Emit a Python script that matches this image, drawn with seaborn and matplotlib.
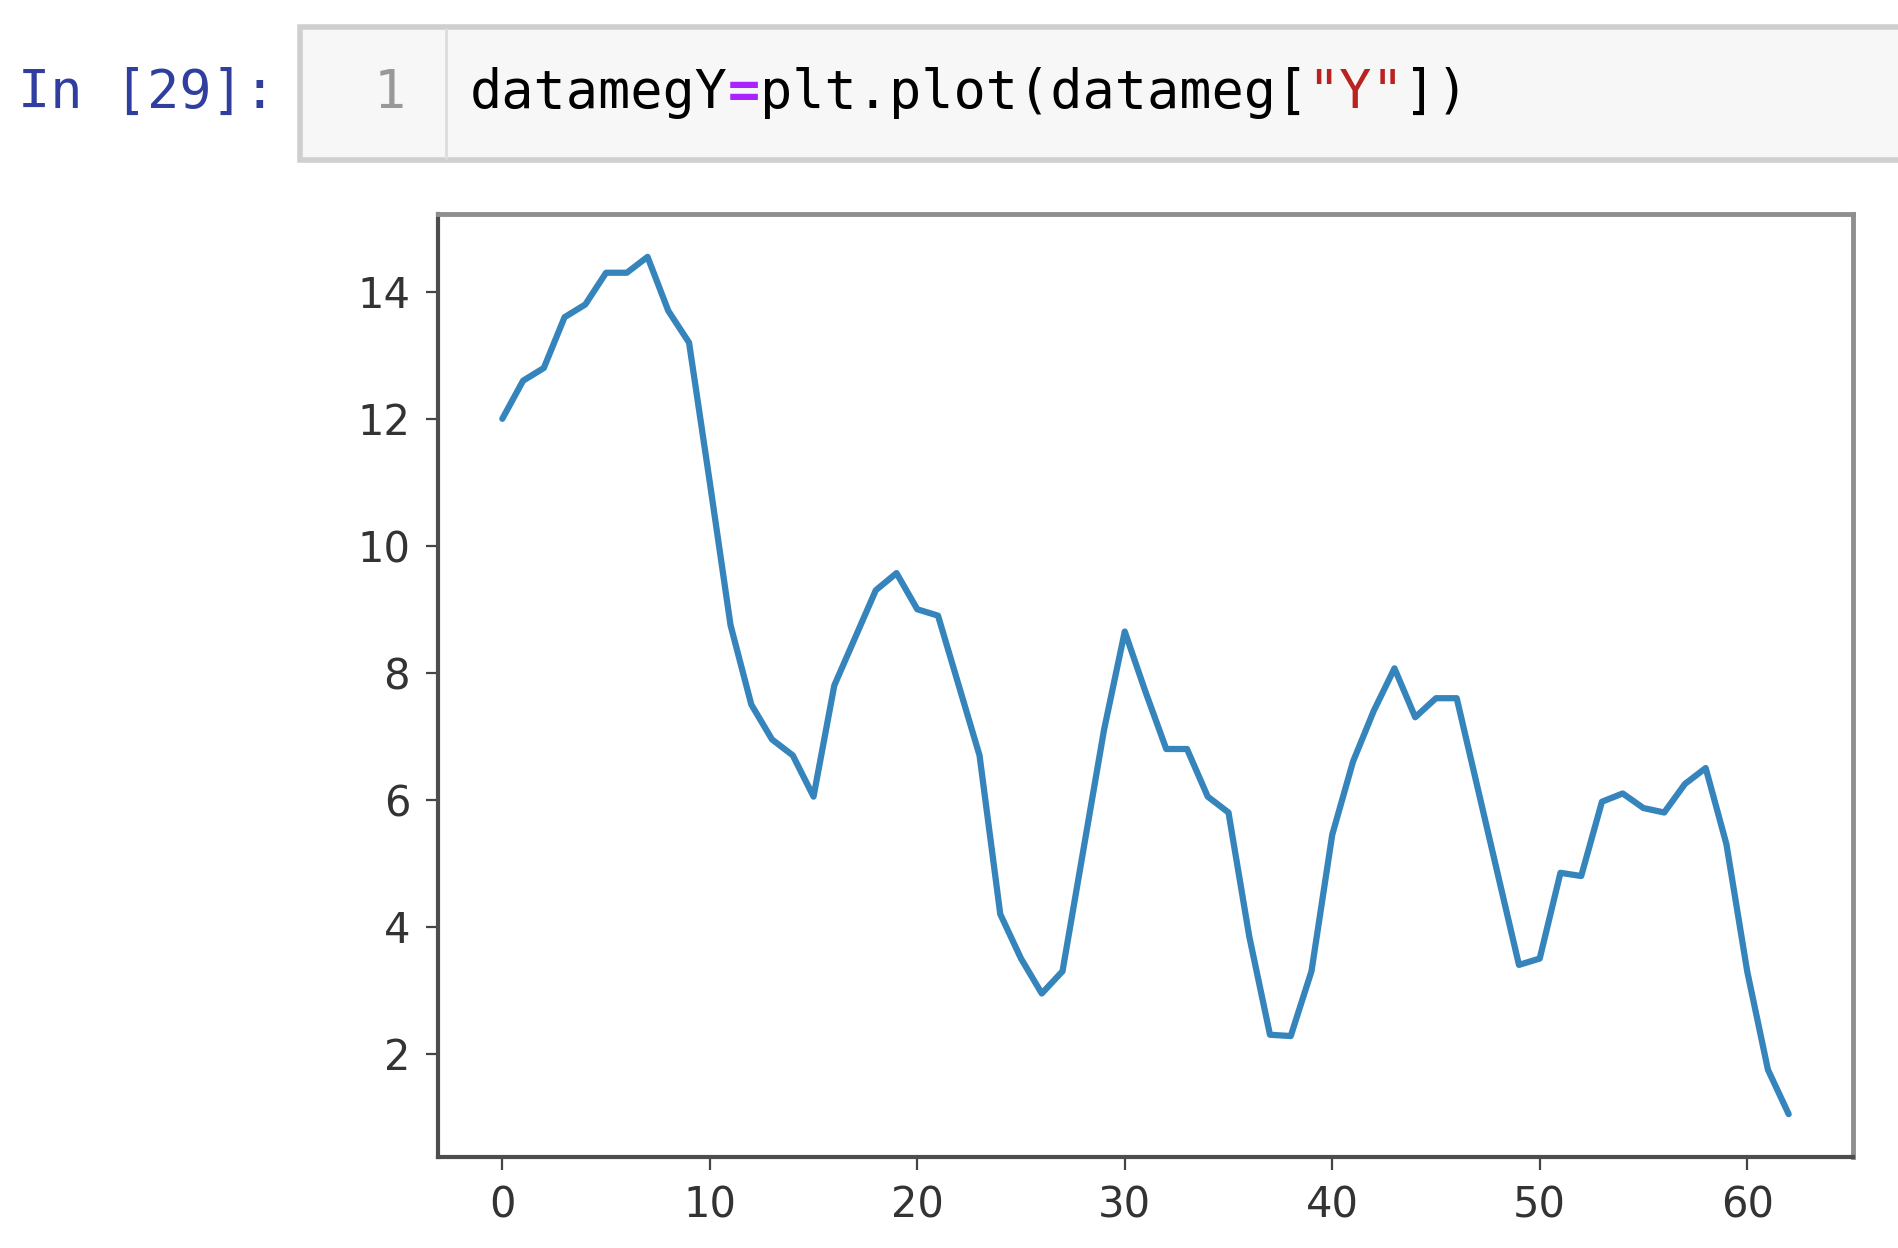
import matplotlib
matplotlib.use("Agg")
import matplotlib.pyplot as plt
from matplotlib.patches import Rectangle
import seaborn as sns
import pandas as pd

# values of datameg["Y"]
y_values = [
    12.0, 12.6, 12.8, 13.6, 13.8, 14.3, 14.3, 14.55, 13.7, 13.2,
    11.0, 8.75, 7.5, 6.95, 6.7, 6.05, 7.8, 8.55, 9.3, 9.57,
    9.0, 8.9, 7.8, 6.7, 4.2, 3.5, 2.95, 3.3, 5.2, 7.1,
    8.65, 7.7, 6.8, 6.8, 6.05, 5.8, 3.85, 2.3, 2.28, 3.3,
    5.45, 6.6, 7.4, 8.07, 7.3, 7.6, 7.6, 6.2, 4.8, 3.4,
    3.5, 4.85, 4.8, 5.97, 6.1, 5.87, 5.8, 6.25, 6.5, 5.3,
    3.3, 1.75, 1.05,
]
x_ticks = [0, 10, 20, 30, 40, 50, 60]
y_ticks = [2, 4, 6, 8, 10, 12, 14]

prompt_text = "In [29]:"
line_no = "1"
code_parts = [("datamegY", "#000000"), ("=", "#AA22FF"), ("plt.plot(datameg[", "#000000"),
              ('"Y"', "#BA2121"), ("])", "#000000")]

datameg = pd.DataFrame({"idx": range(len(y_values)), "Y": y_values})

sns.set_style("white")
plt.rcParams["font.family"] = ["DejaVu Sans"]

W, H = 1899, 1248
fig = plt.figure(figsize=(W / 100, H / 100), dpi=100)
fig.patch.set_facecolor("white")

# === notebook input cell ===
fig.patches.append(Rectangle((300 / W, 1 - 160 / H), 1.0, 133 / H, transform=fig.transFigure,
                             facecolor="#f7f7f7", edgecolor="#cfcfcf", linewidth=4))
fig.lines.append(plt.Line2D([446 / W, 446 / W], [1 - 158 / H, 1 - 29 / H],
                            transform=fig.transFigure, color="#dddddd", linewidth=2))

mono = "DejaVu Sans Mono"
fs = 38.5
char_w = 0.602 * fs * 100 / 72
fig.text(18 / W, 1 - 93 / H, prompt_text, color="#303F9F", fontsize=fs, family=mono,
         va="center", ha="left")
fig.text(390 / W, 1 - 93 / H, line_no, color="#999999", fontsize=fs, family=mono,
         va="center", ha="center")
x0 = 470
for part, col in code_parts:
    fig.text(x0 / W, 1 - 93 / H, part, color=col, fontsize=fs, family=mono,
             va="center", ha="left", weight="bold" if part == "=" else "normal")
    x0 += len(part) * char_w

# === the plot ===
ax = fig.add_axes([438 / W, 1 - 1157 / H, (1853 - 438) / W, (1157 - 214) / H])
sns.lineplot(data=datameg, x="idx", y="Y", ax=ax, color="#1f77b4", linewidth=4.5, alpha=0.9)
ax.set_xlabel("")
ax.set_ylabel("")
ax.set_xticks(x_ticks)
ax.set_yticks(y_ticks)
ax.margins(x=0.05, y=0.05)

for side in ["left", "bottom"]:
    ax.spines[side].set_color("#4d4d4d")
    ax.spines[side].set_linewidth(3)
for side in ["top", "right"]:
    ax.spines[side].set_color("#8f8f8f")
    ax.spines[side].set_linewidth(3.5)

ax.tick_params(axis="both", which="major", length=9, width=1.6, color="#444444",
               labelsize=30, labelcolor="#333333", pad=11, direction="out",
               left=True, bottom=True)

fig.savefig("out.png", dpi=100)
